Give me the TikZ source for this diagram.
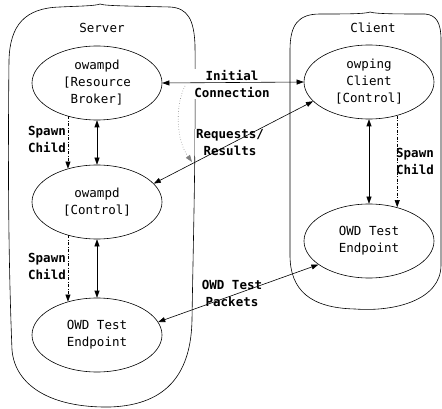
\documentclass[tikz,border=0pt]{standalone}
\usepackage{fontspec}
\setmonofont{DejaVu Sans Mono}
\usetikzlibrary{arrows.meta,shapes.geometric}

\begin{document}
\begin{tikzpicture}[x=1pt,y=-1pt,line width=0.6pt,>={Stealth[length=7pt,width=5pt,inset=0pt]},
  every node/.style={font=\fontsize{12.5}{17}\selectfont\ttfamily},
  proc/.style={draw,ellipse,align=center,minimum width=130pt,minimum height=74pt,inner sep=0pt},
  lbl/.style={align=center,fill=white,inner sep=1pt,font=\fontsize{12.5}{17}\selectfont\ttfamily\bfseries},
  spawn/.style={->,dash pattern=on 3pt off 1.5pt on 1pt off 1.5pt}]
\useasboundingbox (0,0) rectangle (442,409);
\draw (9,60) .. controls (10,25) and (25,8) .. (60,7) .. controls (80,6) and (95,6) .. (100,4) .. controls (105,6) and (130,6) .. (170,7) .. controls (188,8) and (194,20) .. (195,45) .. controls (196,150) and (193,250) .. (192,320) .. controls (191,370) and (170,405) .. (110,407) .. controls (50,408) and (15,385) .. (12,350) .. controls (8,250) and (8,150) .. (9,60) -- cycle;
\draw (290,50) .. controls (290,25) and (298,14) .. (320,14) .. controls (345,14) and (365,14) .. (370,12) .. controls (375,14) and (400,14) .. (425,14) .. controls (436,15) and (441,22) .. (441,40) -- (441,265) .. controls (441,300) and (395,312) .. (355,309) .. controls (310,308) and (290,290) .. (290,255) -- cycle;
\node (srvtitle) at (102,28) {Server};
\node (clititle) at (373,28) {Client};
\node[proc] (broker) at (97,83) {owampd\\{[}Resource\\Broker{]}};
\node[proc] (srvctl) at (97,202) {owampd\\{[}Control{]}};
\node[proc] (srvend) at (97,335) {OWD Test\\Endpoint};
\node[proc] (clictl) at (369,82) {owping\\Client\\{[}Control{]}};
\node[proc] (cliend) at (369,241) {OWD Test\\Endpoint};
\node[lbl] (initlbl) at (232,84) {Initial\\Connection};
\node[lbl] (reqlbl) at (230,143) {Requests/\\Results};
\node[lbl] (owdlbl) at (232,293) {OWD Test\\Packets};
\node[lbl,fill=none] (spawnA) at (47,139) {Spawn\\Child};
\node[lbl,fill=none] (spawnB) at (47,266) {Spawn\\Child};
\node[lbl,fill=none] (spawnC) at (415,161) {Spawn\\Child};
\coordinate (hand) at (185,86);
\coordinate (handend) at (192,162);
\draw[<->] (broker.east)--(clictl.west);\draw[<->] (srvctl.18)--(clictl.199);\draw[<->] (srvend.12)--(cliend.205);
\draw[<->] (broker)--(srvctl);\draw[<->] (srvctl)--(srvend);\draw[<->] (clictl)--(cliend);
\draw[spawn] (broker.229)--(broker.229|-srvctl.131);
\draw[spawn] (srvctl.229)--(srvctl.229|-srvend.131);
\draw[spawn] (clictl.-50)--(clictl.-50|-cliend.51);
\draw[->,dotted,gray] (hand) .. controls (175,105) and (176,140) .. (handend);
\end{tikzpicture}
\end{document}
